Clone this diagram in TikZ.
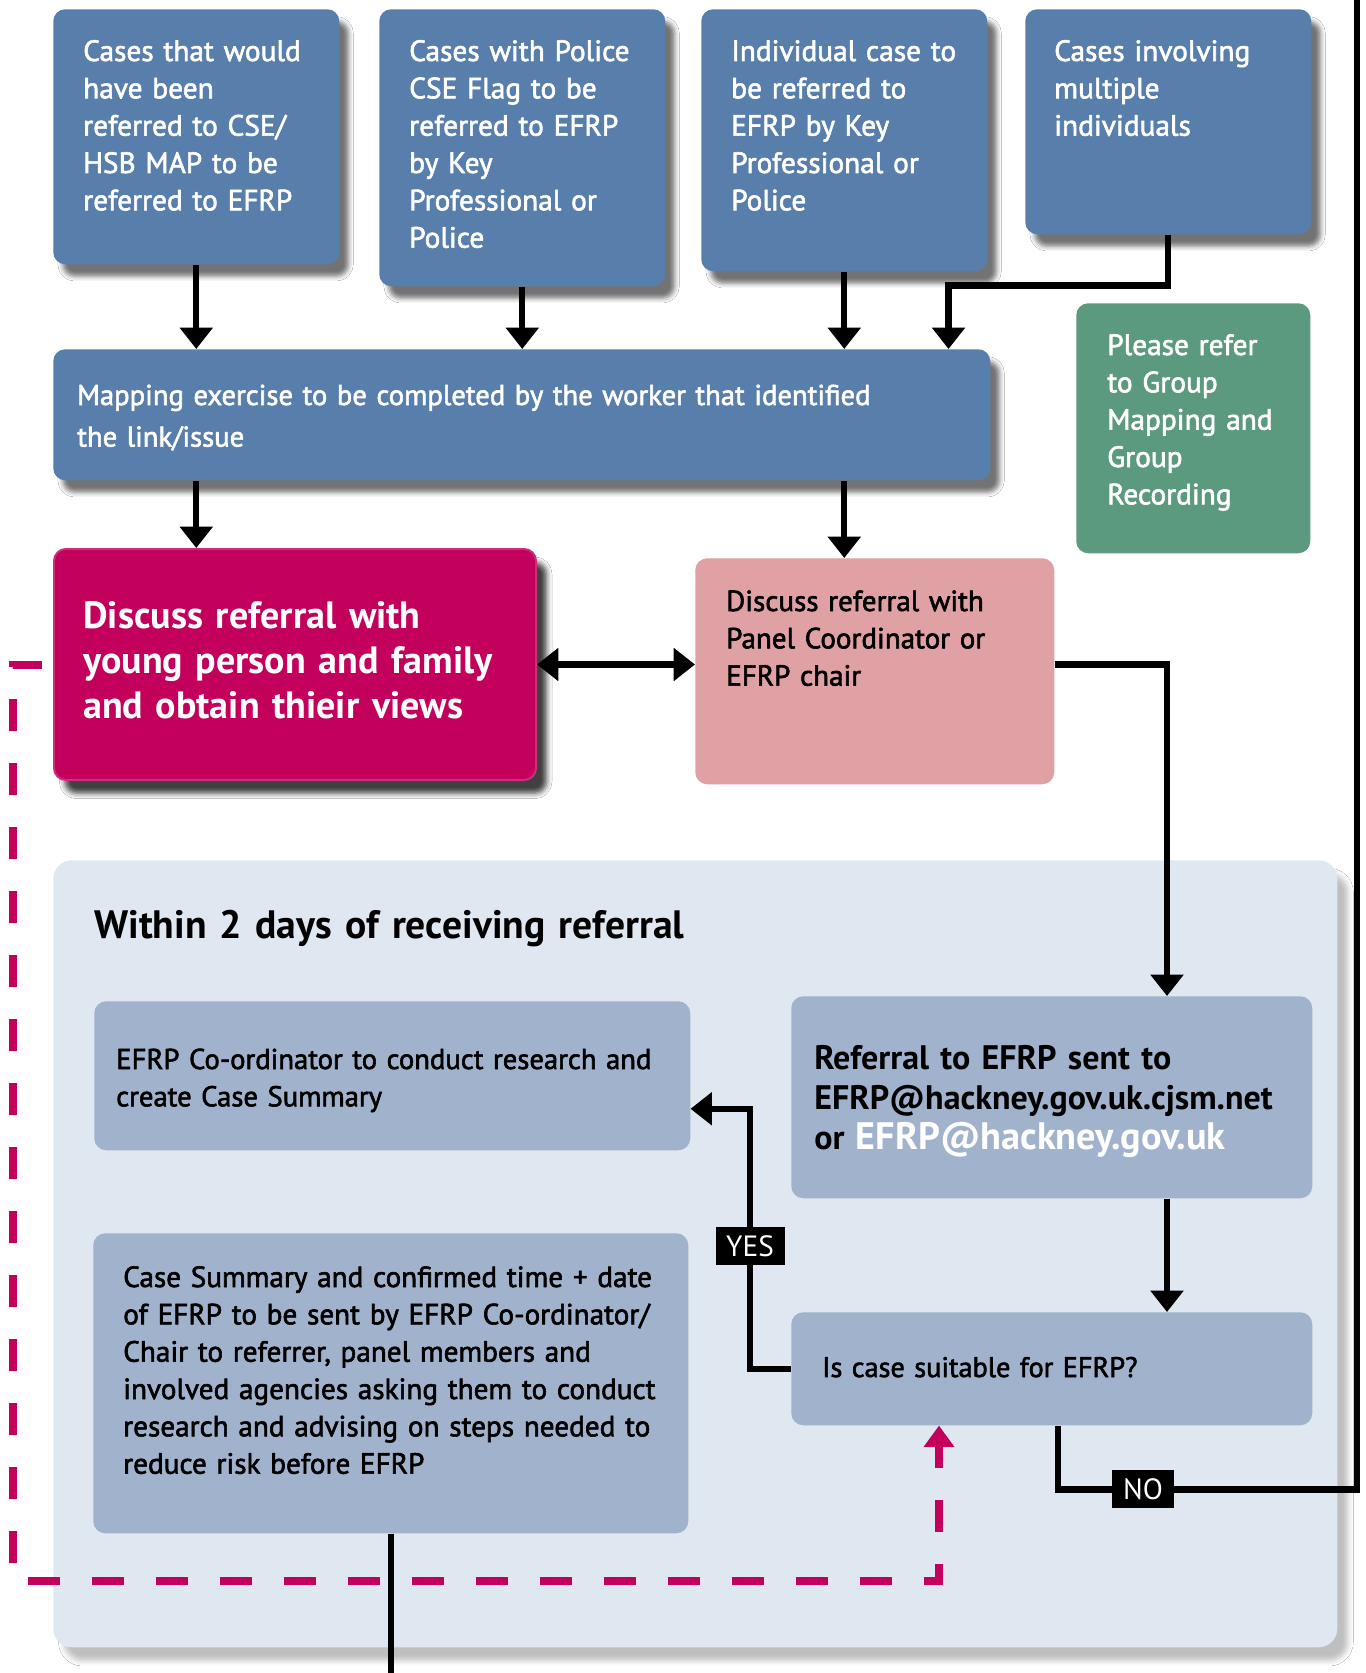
\documentclass[tikz,border=0pt]{standalone}
\usepackage{fontspec}
\setmainfont{PT Sans}
\newfontfamily\medfont{PT Sans}[FakeBold=2.0]
\usetikzlibrary{arrows.meta,shadows.blur,calc}
\definecolor{boxblue}{HTML}{587EAB}
\definecolor{boxgreen}{HTML}{5C9A7F}
\definecolor{mag}{HTML}{C3005B}
\definecolor{lpink}{HTML}{E0A1A4}
\definecolor{panelbg}{HTML}{DFE8F1}
\definecolor{innerbox}{HTML}{A1B2CC}
\begin{document}
\begin{tikzpicture}[x=0.75pt,y=-0.75pt,
  box/.style={rectangle, rounded corners=9pt, inner sep=0pt, anchor=north west, draw=none},
  softshadow/.style={blur shadow={shadow xshift=7pt, shadow yshift=-9pt, shadow opacity=55, shadow blur radius=3.5pt}},
  darkshadow/.style={blur shadow={shadow xshift=8pt, shadow yshift=-10pt, shadow opacity=75, shadow blur radius=4pt}},
  panelshadow/.style={blur shadow={shadow xshift=8pt, shadow yshift=-10pt, shadow opacity=25, shadow blur radius=4pt}},
  txt/.style={anchor=base west, inner sep=0pt, align=left, text width=#1},
  conn/.style={line width=4.8pt, -{Triangle[width=24pt,length=16pt]}},
  twoway/.style={line width=4.8pt, {Triangle[width=24pt,length=16pt]}-{Triangle[width=24pt,length=16pt]}},
  plainline/.style={line width=4.8pt},
  dashline/.style={line width=6pt, draw=mag, dash pattern=on 24pt off 24pt, dash phase=40pt, -{Triangle[width=22pt,length=16pt]}},
  tag/.style={fill=black, text=white, inner xsep=8pt, inner ysep=6.5pt, text height=15pt, text depth=0pt, font=\fontsize{22}{24}\selectfont},
]
\useasboundingbox[fill=white] (0,0) rectangle (1365,1673);
\coordinate (topend) at (1357,0);
\coordinate (bottomend) at (0,1673);

% panel
\node[box, fill=panelbg, panelshadow, rounded corners=14pt, minimum width=963pt, minimum height=590.25pt] (panel) at (53,860) {};

% top boxes
\node[box, fill=boxblue, softshadow, minimum width=214.5pt, minimum height=191.25pt] (b1) at (53,9) {};
\node[box, fill=boxblue, softshadow, minimum width=214.5pt, minimum height=207.75pt] (b2) at (379,9) {};
\node[box, fill=boxblue, softshadow, minimum width=214.5pt, minimum height=196.5pt] (b3) at (701,9) {};
\node[box, fill=boxblue, softshadow, minimum width=214.5pt, minimum height=168.75pt] (b4) at (1025,9) {};
\node[box, fill=boxgreen, minimum width=175.5pt, minimum height=187.5pt] (grn) at (1076,303) {};
\node[box, fill=boxblue, softshadow, minimum width=702.75pt, minimum height=98.25pt] (map) at (53,349) {};
\node[box, fill=mag, draw=mag!82!white, line width=1.5pt, darkshadow, minimum width=361.5pt, minimum height=173.25pt] (mg) at (53,548) {};
\node[box, fill=lpink, minimum width=269.25pt, minimum height=169.5pt] (lp) at (695,558) {};

% inner boxes
\node[box, fill=innerbox, minimum width=447pt, minimum height=111.75pt] (coord) at (94,1001) {};
\node[box, fill=innerbox, minimum width=446.25pt, minimum height=225pt] (cs) at (93,1233) {};
\node[box, fill=innerbox, minimum width=390.75pt, minimum height=151.5pt] (ref) at (791,996) {};
\node[box, fill=innerbox, minimum width=390.75pt, minimum height=84.75pt] (suit) at (791,1312) {};

% texts
\begin{scope}[every node/.append style={text=white, font=\medfont\fontsize{22}{28}\selectfont}]
\node[txt=200pt] (t1) at (83,61) {Cases that would\\have been\\referred to CSE/\\HSB MAP to be\\referred to EFRP};
\node[txt=200pt] (t2) at (409,61) {Cases with Police\\CSE Flag to be\\referred to EFRP\\by Key\\Professional or\\Police};
\node[txt=200pt] (t3) at (731,61) {Individual case to\\be referred to\\EFRP by Key\\Professional or\\Police};
\node[txt=200pt] (t4) at (1054,61) {Cases involving\\multiple\\individuals};
\node[txt=160pt] (tg) at (1107,355) {Please refer\\to Group\\Mapping and\\Group\\Recording};
\end{scope}
\node[txt=680pt, text=white, font=\medfont\fontsize{21.5}{31.2}\selectfont] (tm) at (77,405) {Mapping exercise to be completed by the worker that identified\\the link/issue};
\node[txt=360pt, text=white, font=\bfseries\fontsize{28.5}{33.75}\selectfont] (tmg) at (83,628) {Discuss referral with\\young person and family\\and obtain thieir views};
\node[txt=250pt, font=\medfont\fontsize{21.8}{28}\selectfont] (tlp) at (726,611) {Discuss referral with\\Panel Coordinator or\\EFRP chair};
\node[txt=620pt, font=\bfseries\fontsize{29.7}{32}\selectfont] (title) at (94,938) {Within 2 days of receiving referral};
\node[txt=440pt, font=\medfont\fontsize{21.5}{28}\selectfont] (tco) at (116,1069) {EFRP Co-ordinator to conduct research and\\create Case Summary};
\node[txt=440pt, font=\medfont\fontsize{21.9}{28}\selectfont] (tcs) at (123,1287) {Case Summary and confirmed time + date\\of EFRP to be sent by EFRP Co-ordinator/\\Chair to referrer, panel members and\\involved agencies asking them to conduct\\research and advising on steps needed to\\reduce risk before EFRP};
\node[txt=390pt, font=\bfseries\fontsize{25.5}{30}\selectfont] (tref) at (814,1069) {Referral to EFRP sent to\\EFRP@hackney.gov.uk.cjsm.net\\or {\color{white}\fontsize{28.7}{30}\selectfont EFRP@hackney.gov.uk}};
\node[txt=370pt, font=\medfont\fontsize{21.2}{28}\selectfont] (tsu) at (822,1377) {Is case suitable for EFRP?};

% dashed magenta return line
\draw[dashline] (mg.west) -- ++(-40,0) |- ($(suit.south west)+(148,155)$) -- ($(suit.south west)+(148,0)$);

% connectors
\draw[conn] (b1.south) -- (b1.south |- map.north);
\draw[conn] (b2.south) -- (b2.south |- map.north);
\draw[conn] (b3.south) -- (b3.south |- map.north);
\draw[conn] (b4.south) -- ++(0,51) -| ($(map.north east)+(-42,0)$);
\draw[conn] (map.south -| b1.south) -- (b1.south |- mg.north);
\draw[conn] (map.south -| b3.south) -- (b3.south |- lp.north);
\draw[twoway] (mg.east) -- (mg.east -| lp.west);
\draw[conn] (mg.east -| lp.east) -| ($(ref.north west)+(376,0)$);
\draw[conn] ($(ref.south west)+(376,0)$) -- ($(suit.north west)+(376,0)$);
\draw[conn] (suit.west) -- ++(-41,0) |- ($(coord.east)+(0,33)$);
\draw[plainline] ($(suit.south)+(6,0)$) -- ++(0,64) -| (topend);
\draw[plainline] (cs.south) -- (cs.south |- bottomend);

% labels
\node[tag] (yes) at (750,1246) {YES};
\node[tag] (no) at (1143,1489) {NO};
\end{tikzpicture}
\end{document}
